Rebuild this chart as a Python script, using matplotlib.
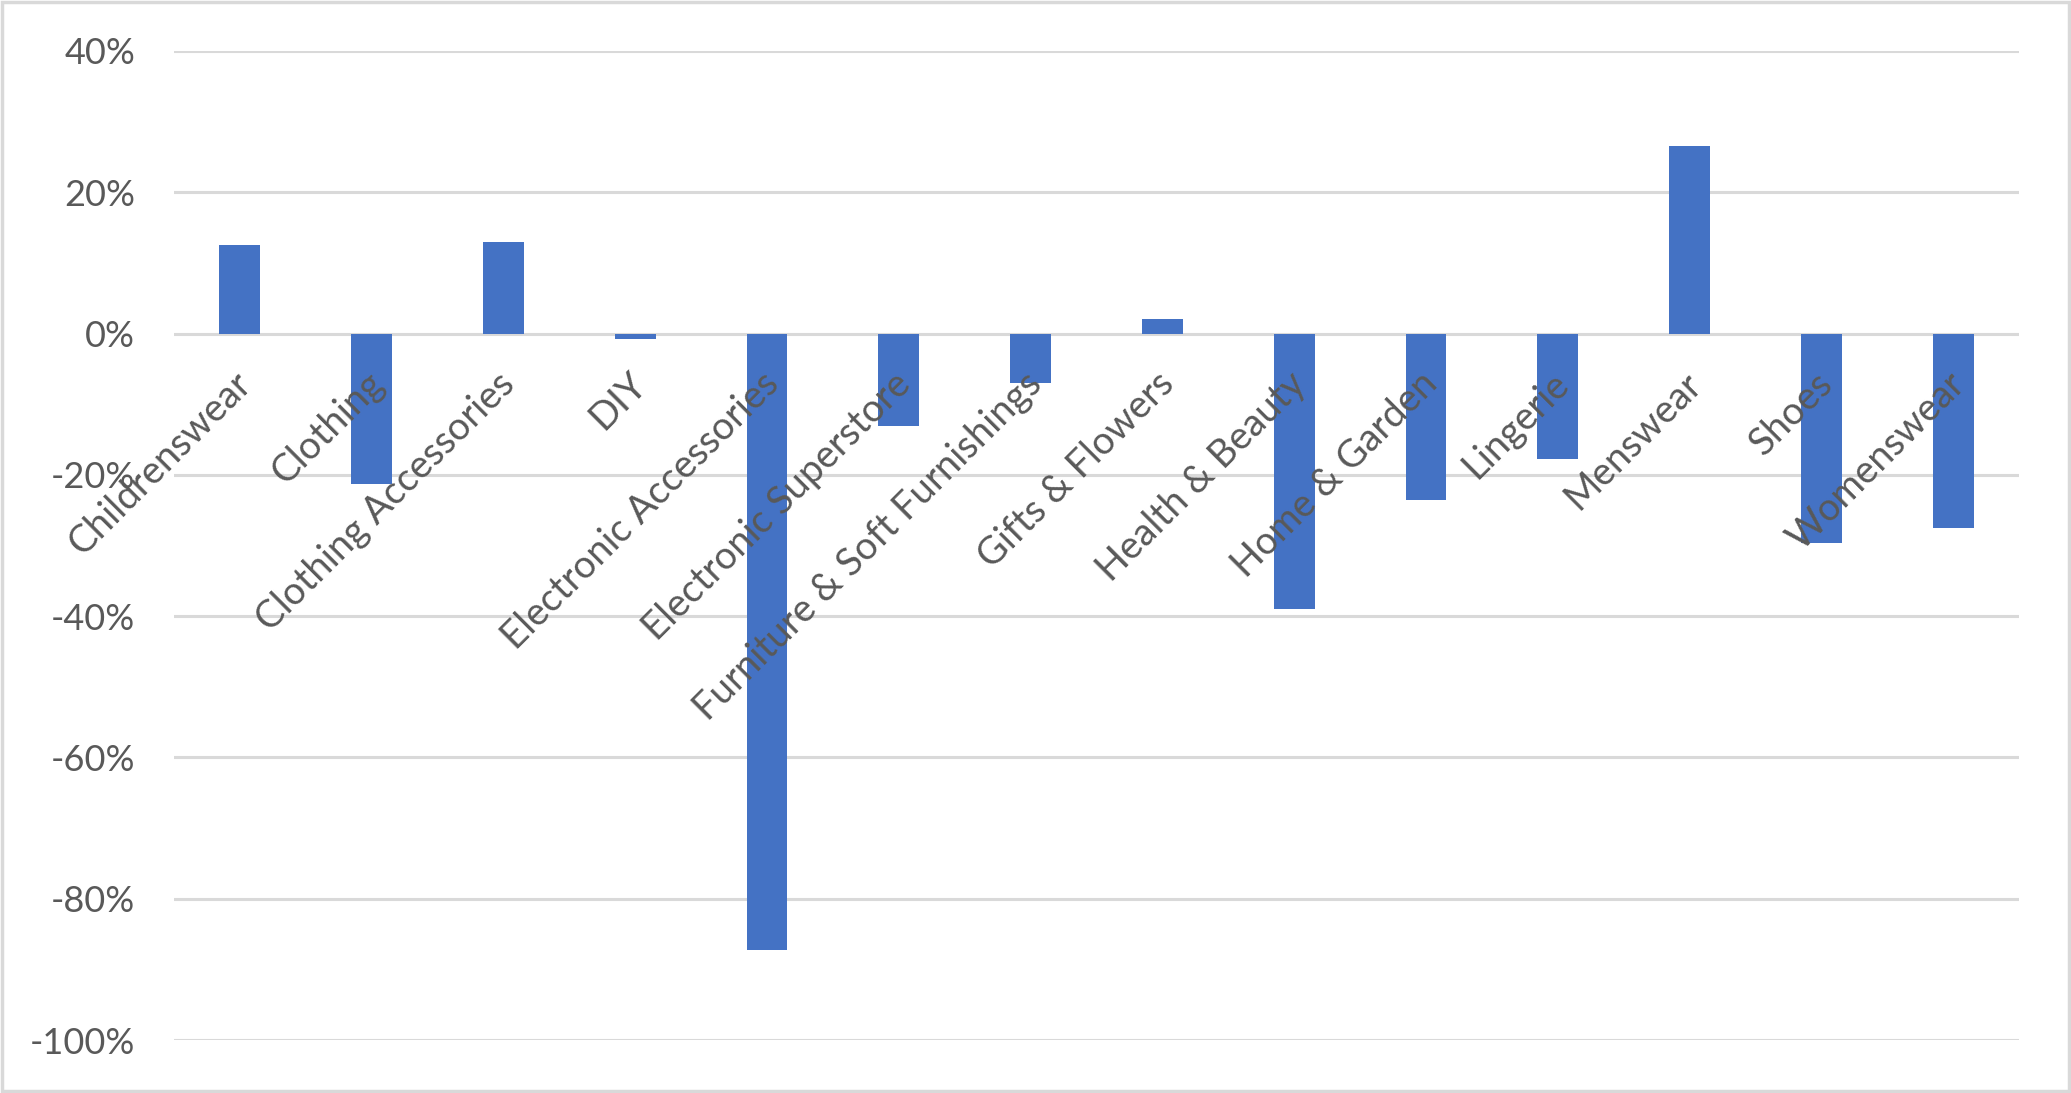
import matplotlib
matplotlib.use("Agg")
import matplotlib.pyplot as plt
import matplotlib.transforms as mtransforms
from matplotlib.patches import Rectangle
from matplotlib.ticker import FuncFormatter

categories = [
    "Childrenswear", "Clothing", "Clothing Accessories", "DIY",
    "Electronic Accessories", "Electronic Superstore",
    "Furniture & Soft Furnishings", "Gifts & Flowers", "Health & Beauty",
    "Home & Garden", "Lingerie", "Menswear", "Shoes", "Womenswear",
]
change = [0.126, -0.213, 0.129, -0.008, -0.873, -0.131, -0.070, 0.020,
          -0.390, -0.236, -0.178, 0.265, -0.297, -0.275]
y_ticks = [0.4, 0.2, 0.0, -0.2, -0.4, -0.6, -0.8, -1.0]

BAR_COLOR = "#4472C4"
GRID_COLOR = "#D9D9D9"
TEXT_COLOR = "#595959"

plt.rcParams["font.family"] = ["Lato", "DejaVu Sans"]

fig = plt.figure(figsize=(20.71, 10.93), dpi=100)
ax = fig.add_axes([174 / 2071, 1 - 1040 / 1093, (2019 - 174) / 2071, (1040 - 51) / 1093])

# category labels sit on the zero line, like Excel does
ax.spines["bottom"].set_position(("data", 0))
for s in ax.spines.values():
    s.set_visible(False)

x = list(range(len(categories)))
ax.bar(x, change, width=0.31, color=BAR_COLOR, zorder=2)

for y in y_ticks:
    ax.axhline(y, color=GRID_COLOR, linewidth=2.2, zorder=0)

ax.set_xlim(-0.5, len(categories) - 0.5)
ax.set_ylim(-1.0, 0.4)
ax.set_yticks(y_ticks)
ax.yaxis.set_major_formatter(FuncFormatter(lambda v, _: f"{v * 100:.0f}%"))
ax.tick_params(axis="y", length=0, pad=28, labelsize=26, labelcolor=TEXT_COLOR)

ax.set_xticks(x)
ax.set_xticklabels(categories)
ax.tick_params(axis="x", length=0, pad=23, labelsize=27.5, labelcolor=TEXT_COLOR,
               labelrotation=45)
shift = mtransforms.ScaledTranslation(-7 / 100, 0, fig.dpi_scale_trans)
for lbl in ax.get_xticklabels():
    lbl.set_ha("right")
    lbl.set_rotation_mode("anchor")
    lbl.set_transform(lbl.get_transform() + shift)
ax.xaxis.set_zorder(3)

# light grey chart border
fig.patches.append(Rectangle((2 / 2071, 2 / 1093), 1 - 4 / 2071, 1 - 4 / 1093,
                             transform=fig.transFigure, fill=False,
                             edgecolor=GRID_COLOR, linewidth=2.5))

fig.savefig("out.png", dpi=100)
